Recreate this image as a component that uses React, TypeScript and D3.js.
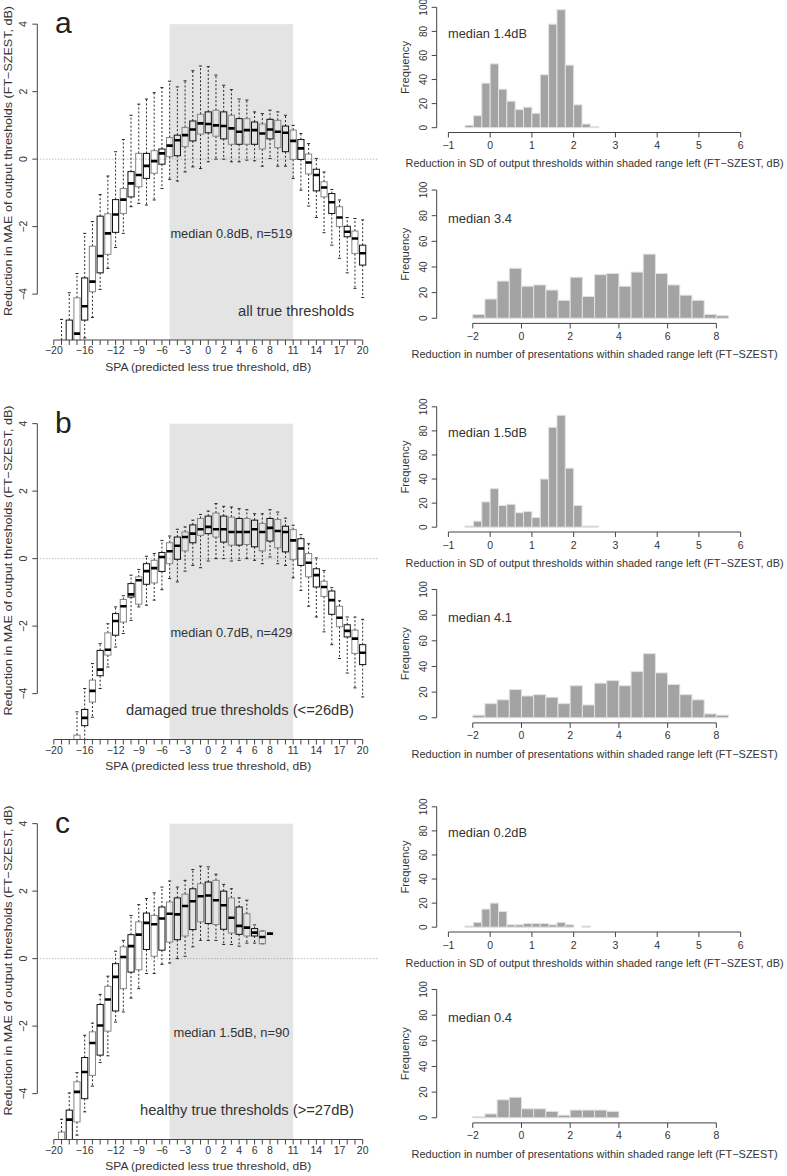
import React from 'react';
import * as d3 from 'd3';

// SPA categories (predicted less true threshold, dB)
const spa = [-20, -19, -18, -17, -16, -15, -14, -13, -12, -11, -10, -9, -8, -7, -6, -5, -4, -3, -2, -1, 0,
  1, 2, 3, 4, 5, 6, 7, 8, 9, 10, 11, 12, 13, 14, 15, 16, 17, 18, 19, 20];
const spaLabels = [-20, -16, -12, -9, -6, -3, 0, 2, 4, 6, 8, 11, 14, 17, 20];
const shadeRange = [-5, 11];

// box stats per SPA: [lower whisker, Q1, median, Q3, upper whisker]
type Box = [number, number, number, number, number] | null;

const boxesA: Box[] = [
  null,
  [-7.5, -6.8, -6.2, -5.6, -4.75],
  [-7.0, -6.2, -5.6, -4.77, -3.96],
  [-6.6, -5.8, -5.17, -4.11, -3.39],
  [-5.3, -4.77, -4.36, -3.52, -2.2],
  [-4.69, -3.93, -3.63, -2.58, -1.85],
  [-3.86, -3.37, -2.87, -1.69, -1.05],
  [-3.24, -2.82, -2.2, -1.62, -0.5],
  [-2.62, -2.17, -1.64, -1.2, 0.22],
  [-2.2, -1.61, -1.2, -0.87, 0.58],
  [-1.41, -1.12, -0.72, -0.37, 1.3],
  [-1.31, -0.82, -0.47, 0.17, 1.63],
  [-1.36, -0.57, -0.2, 0.17, 1.78],
  [-1.21, -0.42, -0.06, 0.25, 1.97],
  [-0.87, -0.15, 0.17, 0.3, 2.12],
  [-0.6, 0.07, 0.4, 0.64, 2.31],
  [-0.65, 0.1, 0.56, 0.71, 2.14],
  [-0.38, 0.37, 0.71, 0.94, 2.32],
  [-0.23, 0.54, 0.88, 1.13, 2.62],
  [-0.28, 0.74, 1.06, 1.33, 2.76],
  [-0.08, 0.78, 1.04, 1.4, 2.74],
  [0.0, 0.68, 1.0, 1.45, 2.49],
  [0.0, 0.6, 0.98, 1.4, 2.19],
  [-0.08, 0.44, 0.91, 1.3, 2.06],
  [-0.08, 0.44, 0.81, 1.2, 1.78],
  [-0.03, 0.44, 0.86, 1.2, 1.75],
  [-0.05, 0.44, 0.86, 1.1, 1.4],
  [-0.21, 0.3, 0.76, 1.04, 1.35],
  [0.02, 0.6, 0.88, 1.18, 1.45],
  [-0.21, 0.34, 0.81, 1.15, 1.4],
  [-0.21, 0.22, 0.78, 0.98, 1.3],
  [-0.57, -0.01, 0.54, 0.86, 1.0],
  [-0.92, -0.01, 0.32, 0.58, 0.76],
  [-1.39, -0.44, -0.1, 0.15, 0.46],
  [-1.73, -0.94, -0.47, -0.3, 0.02],
  [-2.18, -1.12, -0.84, -0.67, -0.38],
  [-2.55, -1.61, -1.28, -1.02, -0.9],
  [-2.94, -2.0, -1.73, -1.41, -1.21],
  [-3.37, -2.3, -2.15, -1.99, -1.73],
  [-3.83, -2.8, -2.35, -2.13, -1.76],
  [-4.1, -3.14, -2.79, -2.55, -1.8],
];

const boxesB: Box[] = [
  null,
  null,
  null,
  [-7.0, -6.5, -6.0, -5.23, -4.54],
  [-5.38, -4.95, -4.72, -4.47, -3.85],
  [-4.7, -4.25, -3.92, -3.6, -3.11],
  [-3.85, -3.47, -3.29, -2.72, -2.52],
  [-3.21, -2.86, -2.7, -2.2, -1.93],
  [-2.62, -2.27, -1.85, -1.63, -1.43],
  [-2.22, -1.88, -1.41, -1.21, -1.1],
  [-1.83, -1.14, -1.06, -0.74, -0.49],
  [-1.43, -1.35, -0.64, -0.54, -0.32],
  [-1.38, -0.76, -0.37, -0.15, 0.07],
  [-1.23, -0.72, -0.28, -0.05, 0.15],
  [-0.92, -0.38, 0.05, 0.18, 0.54],
  [-0.59, -0.15, 0.22, 0.47, 0.67],
  [-0.69, -0.02, 0.38, 0.64, 0.87],
  [-0.37, 0.23, 0.64, 0.79, 0.94],
  [-0.2, 0.47, 0.74, 1.0, 1.14],
  [-0.27, 0.69, 0.87, 1.19, 1.31],
  [-0.07, 0.74, 0.94, 1.26, 1.41],
  [0.0, 0.64, 0.87, 1.35, 1.63],
  [0.0, 0.49, 0.87, 1.26, 1.55],
  [-0.07, 0.4, 0.79, 1.23, 1.53],
  [-0.05, 0.4, 0.79, 1.19, 1.48],
  [0.0, 0.42, 0.79, 1.19, 1.45],
  [-0.05, 0.35, 0.87, 1.14, 1.33],
  [-0.15, 0.23, 0.79, 1.04, 1.33],
  [0.05, 0.52, 0.91, 1.19, 1.45],
  [-0.15, 0.32, 0.82, 1.16, 1.38],
  [-0.2, 0.2, 0.79, 0.96, 1.2],
  [-0.57, -0.03, 0.54, 0.86, 0.99],
  [-0.94, -0.2, 0.3, 0.59, 0.71],
  [-1.41, -0.54, -0.12, 0.15, 0.44],
  [-1.73, -0.84, -0.49, -0.3, 0.02],
  [-2.17, -1.12, -0.84, -0.67, -0.35],
  [-2.55, -1.65, -1.23, -0.96, -0.86],
  [-2.96, -2.02, -1.75, -1.41, -1.25],
  [-3.39, -2.32, -2.14, -1.96, -1.73],
  [-3.83, -2.81, -2.37, -2.12, -1.73],
  [-4.1, -3.14, -2.79, -2.55, -1.8],
];

const boxesC: Box[] = [
  null,
  [-7.0, -6.5, -6.0, -5.14, -4.76],
  [-6.5, -5.8, -4.77, -4.49, -3.98],
  [-5.23, -4.84, -3.95, -3.65, -3.38],
  [-4.54, -4.15, -3.36, -2.93, -2.27],
  [-3.78, -3.46, -2.5, -2.17, -1.91],
  [-3.08, -2.86, -1.98, -1.36, -1.06],
  [-2.88, -2.15, -1.21, -0.82, -0.52],
  [-1.88, -1.55, -0.54, -0.15, 0.22],
  [-1.58, -0.89, 0.05, 0.35, 0.54],
  [-1.17, -0.4, 0.37, 0.71, 1.28],
  [-0.89, -0.33, 0.71, 1.09, 1.6],
  [-0.44, 0.27, 1.06, 1.35, 1.78],
  [-0.44, 0.07, 1.02, 1.28, 1.95],
  [-0.17, 0.25, 1.19, 1.53, 2.12],
  [-0.13, 0.49, 1.33, 1.68, 2.3],
  [0.0, 0.56, 1.31, 1.8, 2.12],
  [0.07, 0.67, 1.56, 1.91, 2.32],
  [0.35, 0.86, 1.7, 2.07, 2.64],
  [0.54, 1.09, 1.85, 2.22, 2.74],
  [0.54, 1.04, 1.87, 2.27, 2.72],
  [0.54, 1.01, 1.73, 2.32, 2.5],
  [0.42, 0.87, 1.58, 2.0, 2.2],
  [0.42, 0.76, 1.21, 1.8, 2.07],
  [0.37, 0.72, 0.97, 1.53, 1.8],
  [0.46, 0.67, 0.92, 1.33, 1.73],
  [0.46, 0.67, 0.77, 0.89, 1.0],
  [0.44, 0.44, 0.64, 0.82, 0.82],
  [0.74, 0.74, 0.74, 0.74, 0.74],
  null, null, null, null, null, null, null, null, null, null, null, null,
];

// histogram of reduction in SD (bin edges, counts)
const sdBreaks = [-0.6, -0.4, -0.2, 0, 0.2, 0.4, 0.6, 0.8, 1.0, 1.2, 1.4, 1.6, 1.8, 2.0, 2.2, 2.4, 2.6];
const sdCountsA = [2, 10, 37, 53, 32, 22, 15, 17, 12, 44, 86, 98, 52, 19, 3, 1];
const sdCountsB = [1, 5, 21, 32, 18, 19, 12, 13, 8, 40, 83, 93, 49, 18, 1, 1];
const sdCountsC = [1, 4, 15, 20, 13, 2, 2, 3, 3, 3, 2, 4, 2, 0, 1];
const sdTicks = [-1, 0, 1, 2, 3, 4, 5, 6];

// histogram of reduction in number of presentations
const presBreaks = [-2, -1.5, -1, -0.5, 0, 0.5, 1, 1.5, 2, 2.5, 3, 3.5, 4, 4.5, 5, 5.5, 6, 6.5, 7, 7.5, 8, 8.5];
const presCountsA = [3, 15, 29, 39, 25, 26, 22, 14, 32, 17, 34, 35, 25, 36, 50, 35, 26, 18, 14, 3, 2];
const presCountsB = [2, 11, 14, 22, 17, 18, 16, 11, 25, 10, 27, 29, 25, 36, 50, 35, 26, 18, 14, 3, 2];
const presCountsC = [1, 3, 14, 16, 7, 7, 5, 2, 6, 6, 6, 5];
const presTicks = [-2, 0, 2, 4, 6, 8];
const freqTicks = [0, 20, 40, 60, 80, 100];
const boxYTicks = [-4, -2, 0, 2, 4];

const panels = [
  { letter: 'a', dy: 0, boxes: boxesA, med: 'median 0.8dB, n=519', medW: 122, group: 'all true thresholds', groupW: 116,
    sd: sdCountsA, sdMed: 'median 1.4dB', pres: presCountsA, presMed: 'median 3.4' },
  { letter: 'b', dy: 399.5, boxes: boxesB, med: 'median 0.7dB, n=429', medW: 122, group: 'damaged true thresholds (<=26dB)', groupW: 228,
    sd: sdCountsB, sdMed: 'median 1.5dB', pres: presCountsB, presMed: 'median 4.1' },
  { letter: 'c', dy: 799.5, boxes: boxesC, med: 'median 1.5dB, n=90', medW: 116, group: 'healthy true thresholds (>=27dB)', groupW: 214,
    sd: sdCountsC, sdMed: 'median 0.2dB', pres: presCountsC, presMed: 'median 0.4' },
];

const FONT = '"Liberation Sans", Arial, sans-serif';
const TXT = '#333';
const AX = '#444';

const xBox = d3.scaleLinear().domain([-22.14, 22.14]).range([37.3, 379.2]);
const yBox = d3.scaleLinear().domain([-5.36, 4.36]).range([340, 12]);
const xSd = d3.scaleLinear().domain([-1.28, 6.28]).range([436.7, 752.4]);
const ySd = d3.scaleLinear().domain([-4, 104]).range([132.5, 2.5]);
const xPres = d3.scaleLinear().domain([-3.48, 9.48]).range([436.7, 752.4]);
const yPres = d3.scaleLinear().domain([-4, 104]).range([323.4, 184.9]);

const fmt = (v: number) => (v < 0 ? '\u2212' + Math.abs(v) : String(v));

function BoxPanel({ p }: any) {
  const [x0, x1] = xBox.range();
  const [yb] = yBox.range();
  const bw = xBox(0.4) - xBox(-0.4);
  const sx0 = xBox(shadeRange[0]);
  const sx1 = xBox(shadeRange[1]);
  return (
    <g>
      <rect x={sx0} y={yBox(4)} width={sx1 - sx0} height={yb - yBox(4)} fill="#e4e4e4" />
      <line x1={x0} x2={x1} y1={yBox(0)} y2={yBox(0)} stroke="#888" strokeWidth={0.8} strokeDasharray="1,2" />
      <g clipPath="url(#boxClip)">
        {p.boxes.map((d: Box, i: number) => {
          if (!d) return null;
          const cx = xBox(spa[i]);
          const [lo, q1, med, q3, hi] = d;
          const col = i % 2 === 0 ? '#111' : '#858585';
          return (
            <g key={i}>
              <line x1={cx} x2={cx} y1={yBox(q3)} y2={yBox(hi)} stroke="#111" strokeWidth={0.9} strokeDasharray="2,2" />
              <line x1={cx} x2={cx} y1={yBox(q1)} y2={yBox(lo)} stroke="#111" strokeWidth={0.9} strokeDasharray="2,2" />
              <line x1={cx - bw / 4} x2={cx + bw / 4} y1={yBox(hi)} y2={yBox(hi)} stroke="#111" strokeWidth={0.9} />
              <line x1={cx - bw / 4} x2={cx + bw / 4} y1={yBox(lo)} y2={yBox(lo)} stroke="#111" strokeWidth={0.9} />
              <rect x={cx - bw / 2} y={yBox(q3)} width={bw} height={Math.max(0, yBox(q1) - yBox(q3))}
                fill="none" stroke={col} strokeWidth={1} />
              <line x1={cx - bw / 2} x2={cx + bw / 2} y1={yBox(med)} y2={yBox(med)} stroke="#000" strokeWidth={2.6} />
            </g>
          );
        })}
      </g>
      {/* y axis */}
      <line x1={x0} x2={x0} y1={yBox(-4)} y2={yBox(4)} stroke={AX} />
      {boxYTicks.map((t) => (
        <g key={t}>
          <line x1={x0 - 5} x2={x0} y1={yBox(t)} y2={yBox(t)} stroke={AX} />
          <text transform={`translate(26.5,${yBox(t)}) rotate(-90)`} textAnchor="middle" fontSize={10.5} fill={TXT}>{fmt(t)}</text>
        </g>
      ))}
      <text transform={`translate(11.5,161) rotate(-90)`} textAnchor="middle" fontSize={11.5} fill={TXT}
        textLength={310} lengthAdjust="spacingAndGlyphs">
        Reduction in MAE of output thresholds (FT{'\u2212'}SZEST, dB)
      </text>
      {/* x axis */}
      <line x1={xBox(-20)} x2={xBox(20)} y1={yb} y2={yb} stroke={AX} />
      {spa.map((t) => (
        <line key={t} x1={xBox(t)} x2={xBox(t)} y1={yb} y2={yb + 5} stroke={AX} />
      ))}
      {spaLabels.map((t) => (
        <text key={t} x={xBox(t)} y={yb + 14} textAnchor="middle" fontSize={10.5} fill={TXT}>{fmt(t)}</text>
      ))}
      <text x={(x0 + x1) / 2} y={yb + 30.5} textAnchor="middle" fontSize={11.5} fill={TXT}
        textLength={206} lengthAdjust="spacingAndGlyphs">
        SPA (predicted less true threshold, dB)
      </text>
      <text x={55} y={33} fontSize={30} fill="#222">{p.letter}</text>
      <text x={(sx0 + sx1) / 2} y={237.5} textAnchor="middle" fontSize={12.5} fill={TXT}
        textLength={p.medW} lengthAdjust="spacingAndGlyphs">{p.med}</text>
      <text x={354} y={315.5} textAnchor="end" fontSize={14} fill={TXT}
        textLength={p.groupW} lengthAdjust="spacingAndGlyphs">{p.group}</text>
    </g>
  );
}

function Hist({ x, y, breaks, counts, ticks, title, titleW, median, medW, titleY, medY }: any) {
  const [yb] = y.range();
  const x0 = x.range()[0];
  return (
    <g>
      {counts.map((c: number, i: number) => (
        <rect key={i} x={x(breaks[i])} y={y(c)} width={x(breaks[i + 1]) - x(breaks[i])} height={y(0) - y(c)}
          fill="#a3a3a3" stroke="#e2e2e2" strokeWidth={1} />
      ))}
      <line x1={x0} x2={x0} y1={y(0)} y2={y(100)} stroke={AX} />
      {freqTicks.map((t) => (
        <g key={t}>
          <line x1={x0 - 5} x2={x0} y1={y(t)} y2={y(t)} stroke={AX} />
          <text transform={`translate(427,${y(t)}) rotate(-90)`} textAnchor="middle" fontSize={10} fill={TXT}>{t}</text>
        </g>
      ))}
      <text transform={`translate(409,${(y(-4) + y(104)) / 2}) rotate(-90)`} textAnchor="middle" fontSize={11.5} fill={TXT}
        textLength={53} lengthAdjust="spacingAndGlyphs">Frequency</text>
      <line x1={x(ticks[0])} x2={x(ticks[ticks.length - 1])} y1={yb} y2={yb} stroke={AX} />
      {ticks.map((t: number) => (
        <g key={t}>
          <line x1={x(t)} x2={x(t)} y1={yb} y2={yb + 5} stroke={AX} />
          <text x={x(t)} y={yb + 16.5} textAnchor="middle" fontSize={10.5} fill={TXT}>{fmt(t)}</text>
        </g>
      ))}
      <text x={(x.range()[0] + x.range()[1]) / 2} y={titleY} textAnchor="middle" fontSize={10.6} fill={TXT}
        textLength={titleW} lengthAdjust="spacingAndGlyphs">{title}</text>
      <text x={448} y={medY} fontSize={13} fill={TXT} textLength={medW} lengthAdjust="spacingAndGlyphs">{median}</text>
    </g>
  );
}

export default function App() {
  return (
    <svg width={787} height={1176} style={{ position: 'absolute', left: 0, top: 0, background: '#fff' }}
      fontFamily={FONT}>
      <defs>
        <clipPath id="boxClip">
          <rect x={xBox.range()[0]} y={yBox.range()[1]} width={xBox.range()[1] - xBox.range()[0]}
            height={yBox.range()[0] - yBox.range()[1]} />
        </clipPath>
      </defs>
      <rect width={787} height={1176} fill="#fff" />
      {panels.map((p) => (
        <g key={p.letter} transform={`translate(0,${p.dy})`}>
          <BoxPanel p={p} />
          <Hist x={xSd} y={ySd} breaks={sdBreaks} counts={p.sd} ticks={sdTicks} median={p.sdMed} medW={79} medY={37.5}
            titleY={167} titleW={378}
            title={'Reduction in SD of output thresholds within shaded range left (FT\u2212SZEST, dB)'} />
          <Hist x={xPres} y={yPres} breaks={presBreaks} counts={p.pres} ticks={presTicks} median={p.presMed} medW={64} medY={222.5}
            titleY={358} titleW={366}
            title={'Reduction in number of presentations within shaded range left (FT\u2212SZEST)'} />
        </g>
      ))}
    </svg>
  );
}
